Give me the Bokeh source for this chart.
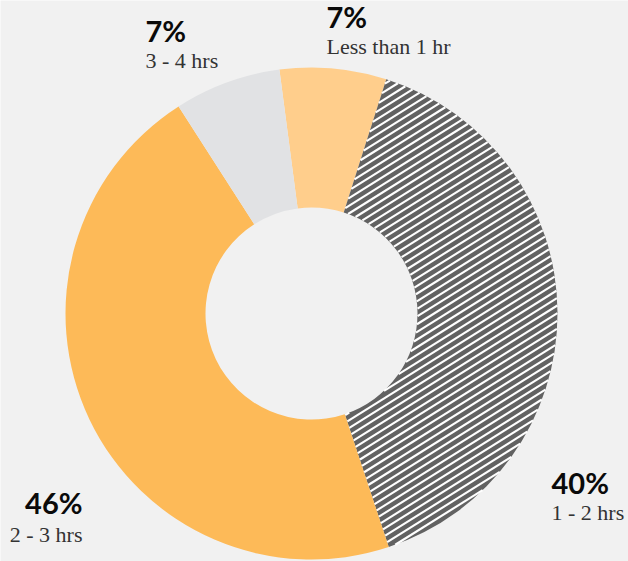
import math
from bokeh.plotting import figure
from bokeh.models import Range1d, ColumnDataSource
from bokeh.core.properties import value
from bokeh.embed import file_html
from bokeh.resources import INLINE

categories = ["Less than 1 hr", "1 - 2 hrs", "2 - 3 hrs", "3 - 4 hrs"]
percents = [7, 40, 46, 7]
pct_labels = ["7%", "40%", "46%", "7%"]
colors = ["#FFCE8C", "#626262", "#FDBA58", "#E1E2E4"]
hatched = [False, True, False, False]

W, H = 628, 561
BG = "#F1F1F1"
CX, CY = 311, H - 313
R_OUT, R_IN = 246, 106
START_CW = -7.5  # degrees clockwise from 12 o'clock
STRIPE_ANGLE = 32.0   # degrees above horizontal
STRIPE_GAP = 6.5      # perpendicular distance between stripes (px)
STRIPE_W = 2.1

p = figure(width=W, height=H, x_range=Range1d(0, W), y_range=Range1d(0, H),
           output_backend="svg", toolbar_location=None, min_border=0)
p.axis.visible = False
p.grid.visible = False
p.outline_line_color = None
p.background_fill_color = BG
p.border_fill_color = BG

total = sum(percents)
cw_start, cw_end = [], []
acc = START_CW
for v in percents:
    cw_start.append(acc)
    acc = acc + 360.0 * v / total
    cw_end.append(acc)

src = ColumnDataSource(dict(
    start=[math.radians(90 - a) for a in cw_start],
    end=[math.radians(90 - a) for a in cw_end],
    color=colors))
p.annular_wedge(x=CX, y=CY, inner_radius=R_IN, outer_radius=R_OUT,
                start_angle="start", end_angle="end", direction="clock",
                fill_color="color", line_color=None, source=src)

# diagonal stripe texture for hatched slices, clipped to the slice shape
th = math.radians(STRIPE_ANGLE)
dx, dy = math.cos(th), math.sin(th)
nx, ny = -dy, dx
xs, ys = [], []
step = 0.25
nlines = int(R_OUT / STRIPE_GAP) + 1
for i, hat in enumerate(hatched):
    if not hat:
        continue
    a0, a1 = cw_start[i], cw_end[i]
    for k in range(-nlines, nlines + 1):
        c = k * STRIPE_GAP
        ox, oy = CX + nx * c, CY + ny * c
        run = None
        t = -R_OUT
        while t <= R_OUT + step:
            px, py = ox + dx * t, oy + dy * t
            rx, ry = px - CX, py - CY
            r = math.hypot(rx, ry)
            ang = math.degrees(math.atan2(rx, ry)) % 360
            inside = (R_IN <= r <= R_OUT) and (a0 <= ang <= a1)
            if inside:
                if run is None:
                    run = [px, py, px, py]
                else:
                    run[2], run[3] = px, py
            elif run is not None:
                xs.append([run[0], run[2]]); ys.append([run[1], run[3]])
                run = None
            t += step
        if run is not None:
            xs.append([run[0], run[2]]); ys.append([run[1], run[3]])
p.multi_line(xs=xs, ys=ys, line_color="white", line_width=STRIPE_W)

# label anchors (pixel coords from top, vertical middle of text) and alignment
lab_x = [326, 551, 82, 145]
pct_mid = [16, 482, 502, 30]
cat_mid = [46, 512, 534, 60]
align = ["left", "left", "right", "left"]

src_lab = ColumnDataSource(dict(
    x=lab_x, yp=[H - b for b in pct_mid], yc=[H - b for b in cat_mid],
    pct=pct_labels, cat=categories, align=align))
p.text(x="x", y="yp", text="pct", text_align="align", text_baseline="middle",
       text_font=value("Lato"), text_font_style="bold", text_font_size="29px",
       text_color="#0A0A0A", source=src_lab)
p.text(x="x", y="yc", text="cat", text_align="align", text_baseline="middle",
       text_font=value("Liberation Serif"), text_font_size="22px",
       text_color="#333333", source=src_lab)

open("out.html", "w").write(file_html(p, INLINE))
